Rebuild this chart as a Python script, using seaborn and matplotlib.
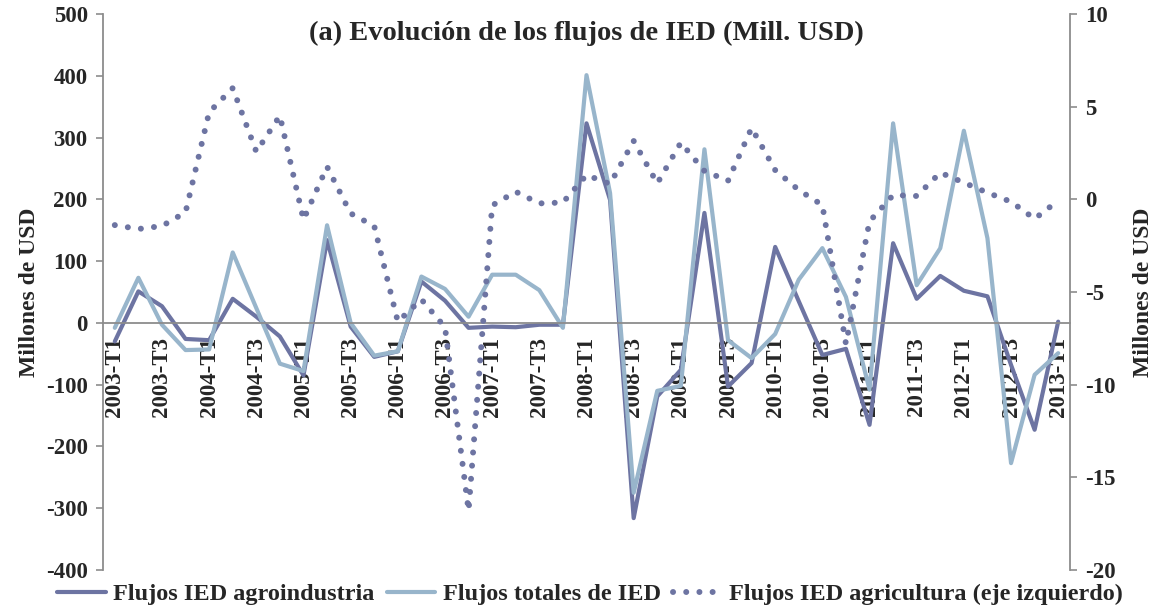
import numpy as np
import matplotlib
matplotlib.use("Agg")
import matplotlib.pyplot as plt
import seaborn as sns

# quarters 2003-T1 .. 2013-T1
quarters = [f"{y}-T{q}" for y in range(2003, 2014) for q in range(1, 5)][:41]

agroindustria = [-30, 51, 27, -26, -28, 39, 10, -22, -85, 134,
                 -6, -55, -46, 67, 36, -8, -6, -7, -3, -3,
                 323, 199, -316, -119, -76, 178, -103, -65, 123, 35,
                 -52, -42, -165, 129, 39, 76, 52, 43, -68, -173,
                 2]
totales = [-8, 73, -3, -44, -43, 114, 24, -66, -78, 158,
           0, -53, -46, 75, 55, 10, 78, 78, 53, -8,
           401, 210, -275, -110, -102, 281, -28, -57, -18, 70,
           121, 42, -108, 323, 61, 121, 311, 137, -227, -84,
           -49]
agricultura = [-1.39, -1.6, -1.44, -0.7, 4.7, 6.0, 2.57, 4.51, -1.1, 1.76,
               -0.76, -1.44, -6.6, -5.4, -6.9, -16.8, -0.33, 0.41, -0.22, -0.17,
               1.31, 0.83, 3.15, 0.86, 3.06, 1.53, 1.0, 3.85, 1.58, 0.5,
               -0.31, -7.8, -1.19, 0.23, 0.18, 1.44, 0.9, 0.36, -0.13, -1.05,
               -0.07]

dark = "#6D74A2"
light = "#98B5CB"
grey = "#8C8C8C"

sns.set_style("white")
plt.rcParams["font.family"] = ["Liberation Serif", "DejaVu Serif"]
plt.rcParams["font.weight"] = "bold"
plt.rcParams["axes.unicode_minus"] = False

pos = np.arange(len(quarters))

fig = plt.figure(figsize=(11.57, 6.09), dpi=100)
ax = fig.add_axes([103 / 1157, 39 / 609, 967 / 1157, 556 / 609])
ax2 = ax.twinx()

sns.lineplot(x=pos, y=agroindustria, ax=ax, color=dark, linewidth=3, legend=False)
sns.lineplot(x=pos, y=totales, ax=ax, color=light, linewidth=3, legend=False)
sns.lineplot(x=pos, y=agricultura, ax=ax2, color=dark, linewidth=4.3,
             linestyle=(0, (0.01, 2.2)), dash_capstyle="round", legend=False)

ax.set_xlim(-0.5, len(quarters) - 0.5)
ax.set_ylim(-400, 500)
ax.set_yticks(range(-400, 501, 100))
ax2.set_ylim(-20, 10)
ax2.set_yticks(range(-20, 11, 5))

# category axis crossing at zero
ax.spines["bottom"].set_position(("data", 0))
for s in ["top", "right"]:
    ax.spines[s].set_visible(False)
for s in ["top", "bottom", "left"]:
    ax2.spines[s].set_visible(False)
for sp in [ax.spines["left"], ax.spines["bottom"], ax2.spines["right"]]:
    sp.set_color(grey)
    sp.set_linewidth(1.3)

ax.set_xticks(pos[::2])
ax.set_xticklabels(quarters[::2], rotation=90, fontsize=16.5, fontweight="bold", va="top")
ax.set_xticks(np.arange(-0.5, len(quarters), 1), minor=True)
ax.tick_params(axis="x", which="major", length=0, pad=10)
ax.tick_params(axis="x", which="minor", length=5, width=1.2, color=grey, direction="out")
ax.tick_params(axis="y", length=5, width=1.2, color=grey, labelsize=16.5, pad=6)
ax2.tick_params(axis="y", length=5, width=1.2, color=grey, labelsize=16.5, pad=6)
for lab in ax.get_yticklabels() + ax2.get_yticklabels():
    lab.set_fontweight("bold")

ax.set_ylabel("Millones de USD", fontsize=17, fontweight="bold", labelpad=4)
ax2.set_ylabel("Millones de USD", fontsize=17, fontweight="bold", labelpad=12)
ax.set_xlabel("")
ax.grid(False)
ax2.grid(False)

ax.text(0.5, 0.965, "(a) Evolución de los flujos de IED (Mill. USD)", transform=ax.transAxes,
        ha="center", va="center", fontsize=20.5, fontweight="bold")

handles = ax.get_lines()[:2] + ax2.get_lines()[:1]
labels = ["Flujos IED agroindustria", "Flujos totales de IED",
          "Flujos IED agricultura (eje izquierdo)"]
fig.legend(handles, labels, loc="lower center", bbox_to_anchor=(0.51, -0.03), ncol=3,
           frameon=False, handlelength=2.0, handletextpad=0.3, columnspacing=0.5,
           prop={"size": 17.5, "weight": "bold"})

fig.savefig("out.png", dpi=100)
